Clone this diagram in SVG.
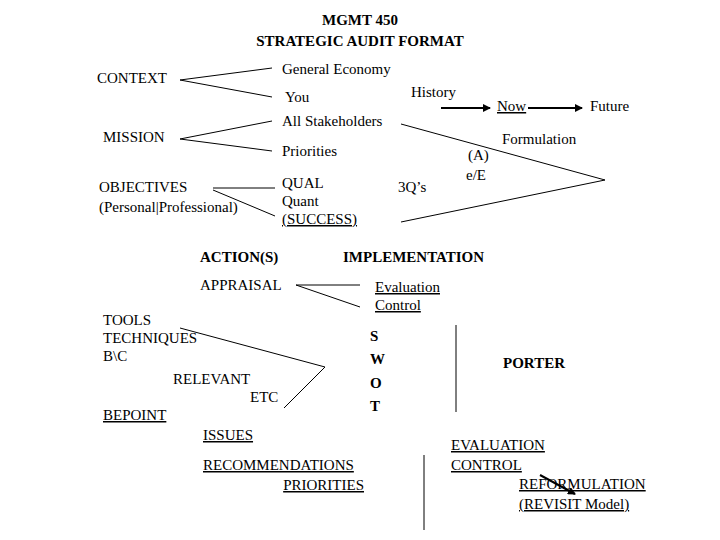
<svg xmlns="http://www.w3.org/2000/svg" width="720" height="540" viewBox="0 0 720 540">
<style>
text{font-family:"Liberation Serif","DejaVu Serif","Times New Roman",serif;font-size:15px;fill:#000}
.b{font-weight:bold}
.u{text-decoration:underline}
line{stroke:#000;stroke-width:1}
.t{stroke-width:2}
</style>
<defs><marker id="ah" markerWidth="8" markerHeight="8" refX="7" refY="4" orient="auto" markerUnits="userSpaceOnUse"><path d="M0,0L8,4L0,8z" fill="#000"/></marker></defs>
<rect width="720" height="540" fill="#fff"/>
<g id="title"><text class="b" x="360" y="25" text-anchor="middle">MGMT 450</text><text class="b" x="360" y="46" text-anchor="middle">STRATEGIC AUDIT FORMAT</text></g>
<g id="context"><text x="97" y="83">CONTEXT</text></g>
<g id="general"><text x="282" y="74">General Economy</text></g>
<g id="you"><text x="285" y="102">You</text></g>
<g id="history"><text x="411" y="97">History</text></g>
<g id="now"><text class="u" x="497" y="111">Now</text></g>
<g id="future"><text x="590" y="111">Future</text></g>
<g id="stake"><text x="282" y="126">All Stakeholders</text></g>
<g id="mission"><text x="103" y="142">MISSION</text></g>
<g id="priorities"><text x="282" y="156">Priorities</text></g>
<g id="formulation"><text x="502" y="144">Formulation</text></g>
<g id="a"><text x="468" y="160">(A)</text><text x="466" y="180">e/E</text></g>
<g id="obj"><text x="99" y="192">OBJECTIVES</text><text x="99" y="212">(Personal|Professional)</text></g>
<g id="qual"><text x="282" y="188">QUAL</text><text x="282" y="206">Quant</text><text class="u" x="282" y="224">(SUCCESS)</text></g>
<g id="q3"><text x="398" y="192">3Q’s</text></g>
<g id="action"><text class="b" x="200" y="262">ACTION(S)</text></g>
<g id="impl"><text class="b" x="343" y="262">IMPLEMENTATION</text></g>
<g id="appraisal"><text x="200" y="290">APPRAISAL</text></g>
<g id="evalctl"><text class="u" x="375" y="292">Evaluation</text><text class="u" x="375" y="310">Control</text></g>
<g id="tools"><text x="103" y="325">TOOLS</text><text x="103" y="343">TECHNIQUES</text><text x="103" y="361">B\C</text><text x="173" y="384">RELEVANT</text><text x="250" y="402">ETC</text><text class="u" x="103" y="420">BEPOINT</text></g>
<g id="swot"><text class="b" x="370" y="341">S</text><text class="b" x="370" y="364">W</text><text class="b" x="370" y="388">O</text><text class="b" x="370" y="411">T</text></g>
<g id="porter"><text class="b" x="503" y="368">PORTER</text></g>
<g id="issues"><text class="u" x="203" y="440">ISSUES</text><text class="u" x="203" y="470">RECOMMENDATIONS</text><text class="u" x="364" y="490" text-anchor="end">PRIORITIES</text></g>
<g id="eval2"><text class="u" x="451" y="450">EVALUATION</text><text class="u" x="451" y="470">CONTROL</text><text class="u" x="519" y="489">REFORMULATION</text><text class="u" x="519" y="509">(REVISIT Model)</text></g>
<g id="connectors">
<line x1="180" y1="80" x2="272" y2="68"/><line x1="180" y1="80" x2="272" y2="97"/>
<line x1="180" y1="139" x2="272" y2="121"/><line x1="180" y1="139" x2="272" y2="151"/>
<line x1="213" y1="188" x2="275" y2="188"/><line x1="213" y1="190" x2="275" y2="216"/>
<line x1="401" y1="124" x2="605" y2="180"/><line x1="401" y1="222" x2="605" y2="180"/>
<line class="t" x1="441" y1="108" x2="490" y2="108" marker-end="url(#ah)"/>
<line class="t" x1="528" y1="108" x2="582" y2="108" marker-end="url(#ah)"/>
<line x1="296" y1="285" x2="360" y2="285"/><line x1="296" y1="285" x2="360" y2="307"/>
<line x1="180" y1="328" x2="325" y2="367"/><line x1="325" y1="367" x2="284" y2="408"/>
<line x1="456" y1="325" x2="456" y2="412"/>
<line x1="424" y1="455" x2="424" y2="530"/>
<line class="t" x1="540" y1="475" x2="575" y2="494" marker-end="url(#ah)"/>
</g>
</svg>
